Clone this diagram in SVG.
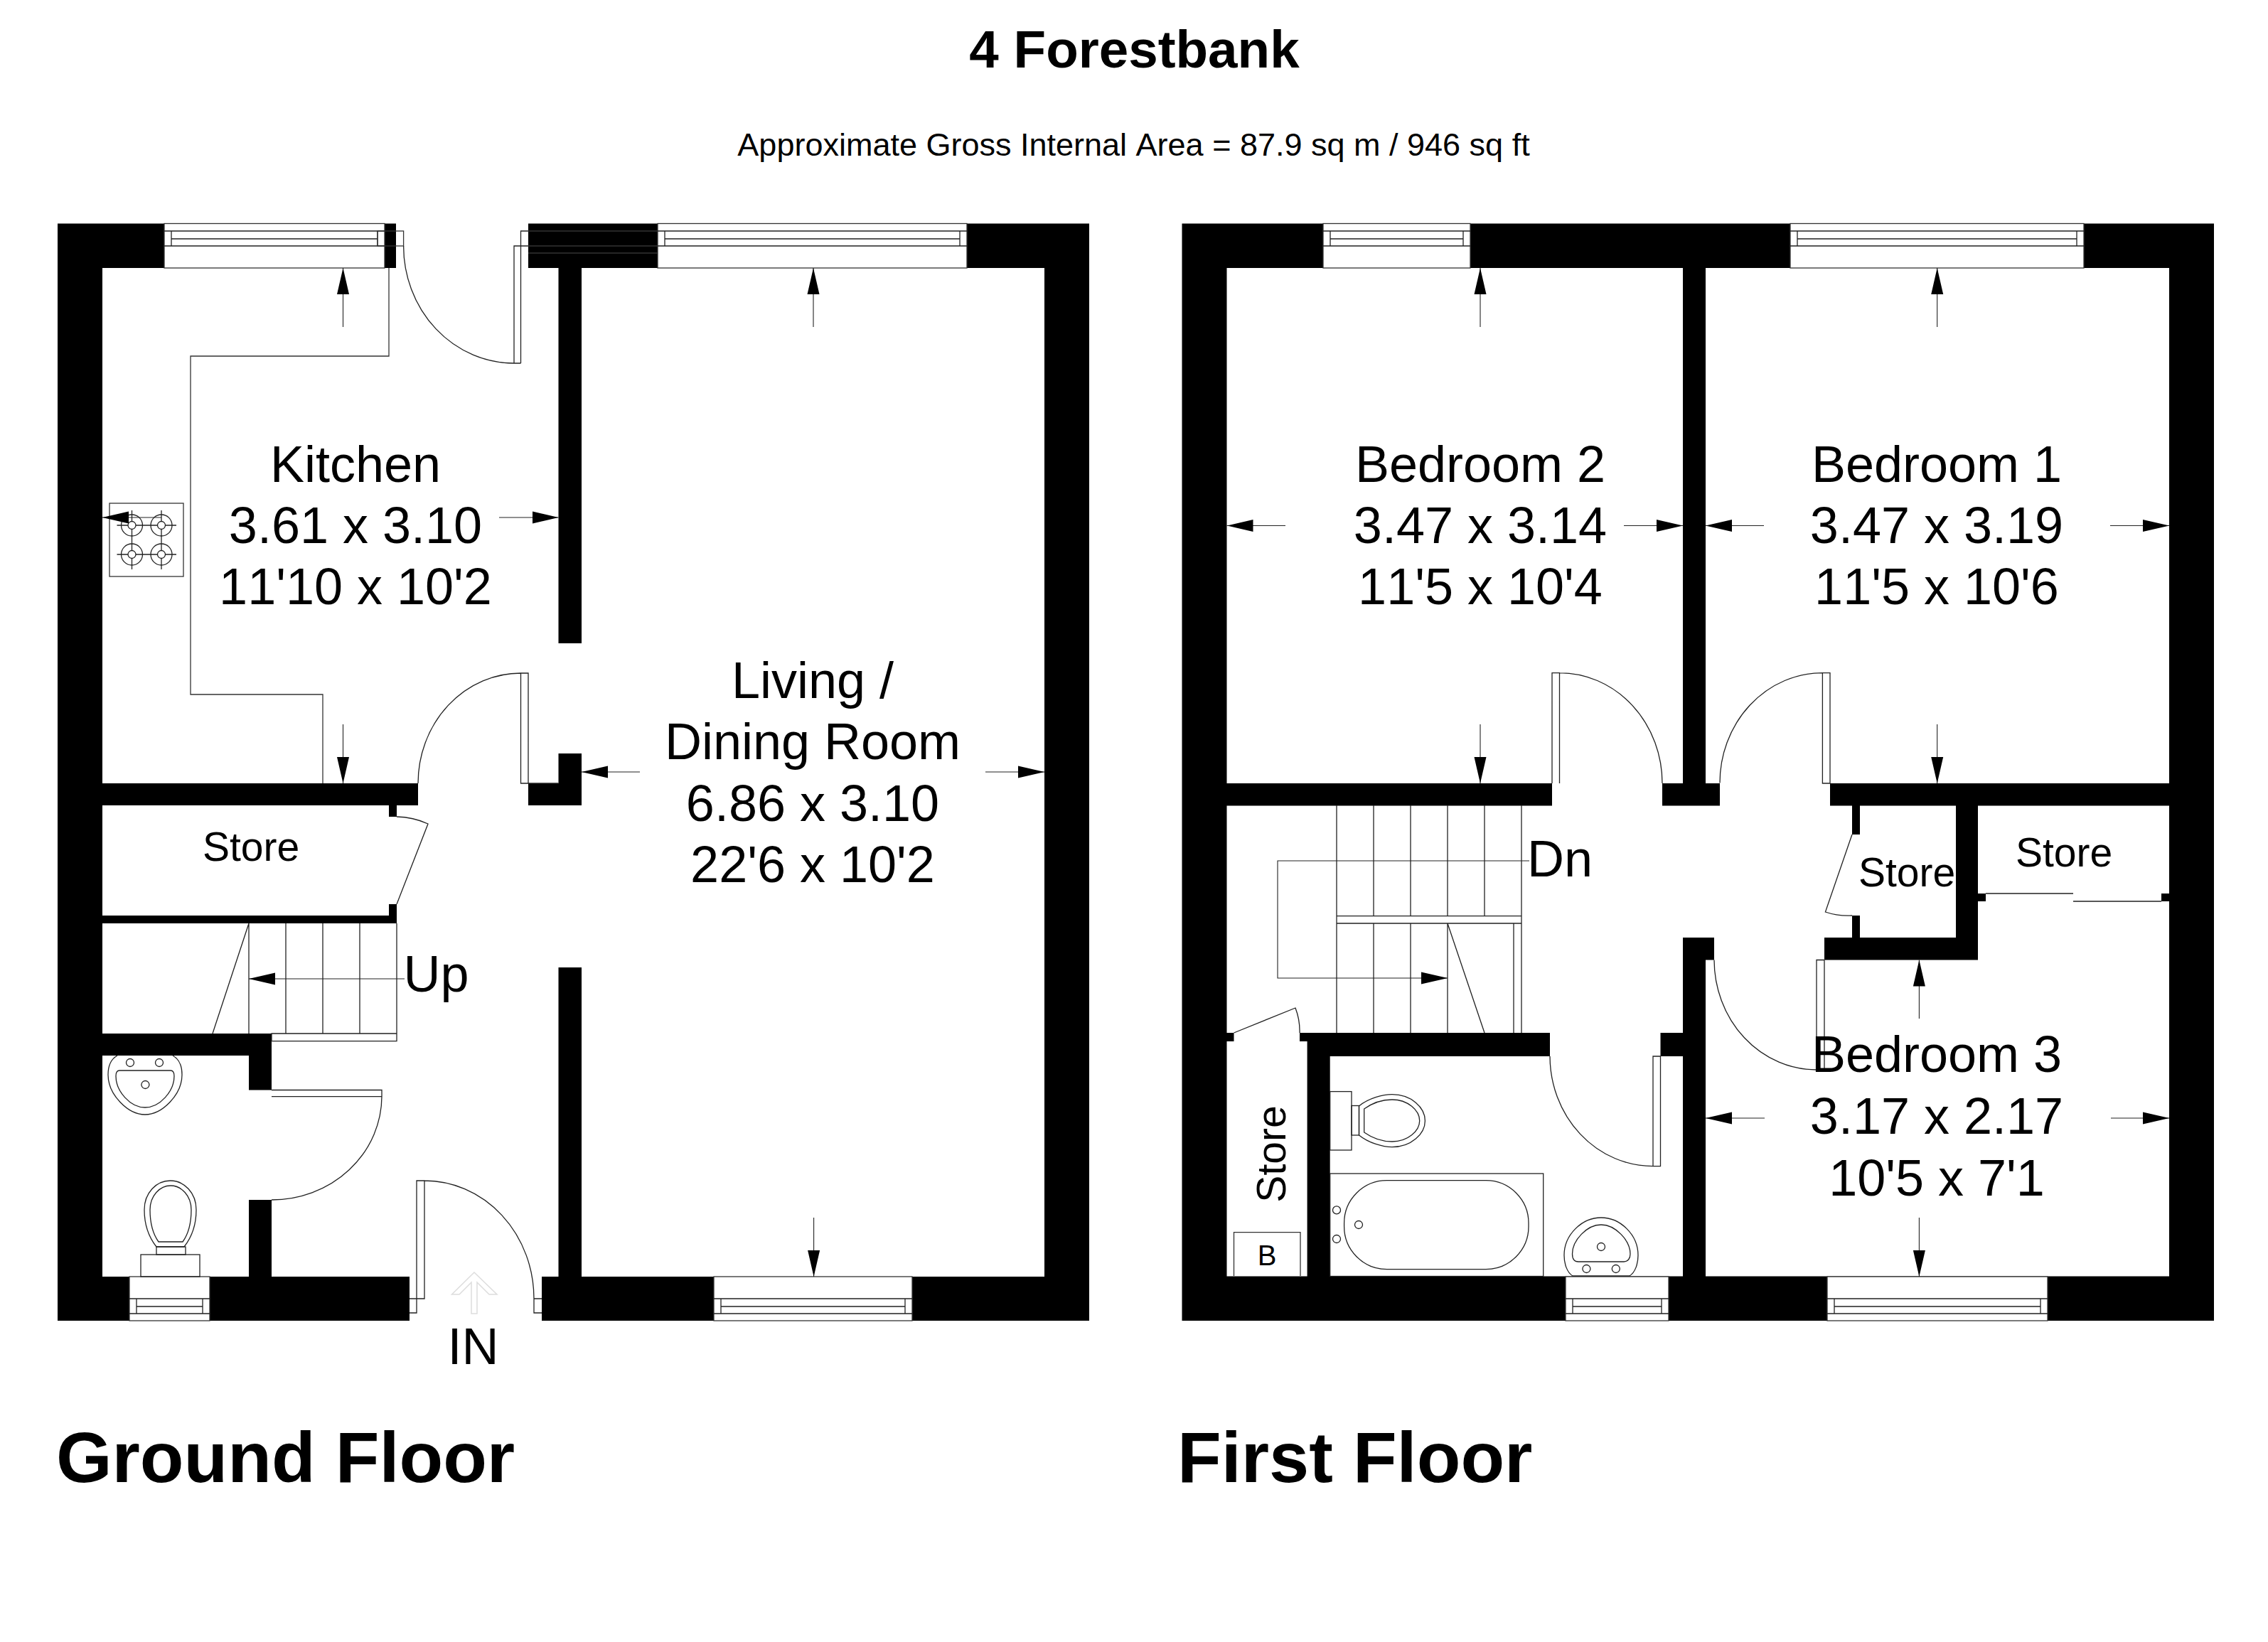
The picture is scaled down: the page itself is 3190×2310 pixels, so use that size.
<svg xmlns="http://www.w3.org/2000/svg" width="3190" height="2310" viewBox="0 0 3190 2310">
<defs>
<marker id="ah" markerUnits="userSpaceOnUse" viewBox="-37 -9 37 18" refX="0" refY="0" markerWidth="37" markerHeight="18" orient="auto"><path d="M0,0 L-37,-8.5 L-37,8.5 Z" fill="#000"/></marker>
</defs>
<style>
text{font-family:"Liberation Sans",Arial,sans-serif;fill:#000;font-kerning:none}
.room{font-size:72px;text-anchor:middle}
.small{font-size:57px;text-anchor:middle}
.floor{font-size:101px;font-weight:bold}
.wall{fill:#000;stroke:none}
.ln{fill:none;stroke:#222;stroke-width:1.3}
.thin{fill:none;stroke:#333;stroke-width:1.3}
.win{fill:#fff;stroke:#333;stroke-width:1.3}
.dim{fill:none;stroke:#222;stroke-width:1.1;marker-end:url(#ah)}
</style>
<rect width="3190" height="2310" fill="#fff"/>

<g id="titles">
<text x="1595.5" y="95" font-size="74.6" font-weight="bold" text-anchor="middle">4 Forestbank</text>
<text x="1594.5" y="219" font-size="45" text-anchor="middle">Approximate Gross Internal Area = 87.9 sq m / 946 sq ft</text>
<text class="floor" x="79" y="2085">Ground Floor</text>
<text class="floor" x="1656" y="2085">First Floor</text>
</g>

<g id="ground-walls">
<path class="wall" d="M81,314.5H557V377H81Z M81,314.5H144V1858H81Z M743,314.5H1532V377H743Z M1469,314.5H1532V1858H1469Z M81,1796H576V1858H81Z M762,1796H1532V1858H762Z M785.5,377H818V905H785.5Z M785.5,1060H818V1133H785.5Z M743,1102H818V1133H743Z M785.5,1361H818V1796H785.5Z M81,1102H588V1133H81Z M547,1133H558V1149H547Z M547,1272H558V1288H547Z M81,1288H558V1299H81Z M81,1454H382V1485H81Z M350,1485H382V1533.5H350Z M350,1688H382V1796H350Z"/>
<path class="thin" d="M743,325H925M743,346H925M743,356H925"/>
</g>

<g id="first-walls">
<path class="wall" d="M1662.5,314.5H3114V377H1662.5Z M1662.5,314.5H1725.5V1858H1662.5Z M3051,314.5H3114V1858H3051Z M1662.5,1795.5H3114V1858H1662.5Z M1662.5,1102H2183V1133.5H1662.5Z M2367,377H2399V1133.5H2367Z M2338,1102H2419V1133.5H2338Z M2574,1102H3114V1133.5H2574Z M2605,1133H2616V1174H2605Z M2605,1288H2616V1319H2605Z M2751,1133H2782V1350H2751Z M2566,1319H2782V1350.5H2566Z M2751,1257H2793V1268H2751Z M3040,1257H3114V1268H3040Z M2367,1319H2399V1795.5H2367Z M2367,1319H2411V1350.5H2367Z M2335.5,1453H2399V1486H2335.5Z M1662.5,1453H1735.5V1465H1662.5Z M1828,1453H2180V1465H1828Z M1838.6,1453H2180V1486H1838.6Z M1838.6,1486H1870.7V1795.5H1838.6Z"/>
</g>

<g id="windows">
<g id="win-kitchen">
<rect class="win" x="231" y="314.5" width="310" height="62.5"/>
<path class="ln" d="M231,325H541M231,346H541M241,336H531M241,325V346M531,325V346"/>
<rect class="thin" x="531" y="325" width="36.6" height="21"/>
</g>
<g id="win-living"><rect class="win" x="925" y="314.5" width="435" height="62.5"/><path class="ln" d="M925,325H1360M925,346H1360M935,336H1350M935,325V346M1350,325V346"/></g>
<g id="win-wc"><rect class="win" x="182" y="1796" width="113" height="62"/><path class="ln" d="M182,1827H295M182,1848H295M192,1838H285M192,1827V1848M285,1827V1848"/></g>
<g id="win-living-b"><rect class="win" x="1004" y="1796" width="279" height="62"/><path class="ln" d="M1004,1827H1283M1004,1848H1283M1014,1838H1273M1014,1827V1848M1273,1827V1848"/></g>
<g id="win-bed2"><rect class="win" x="1861" y="314.5" width="207" height="62.5"/><path class="ln" d="M1861,325H2068M1861,346H2068M1871,336H2058M1871,325V346M2058,325V346"/></g>
<g id="win-bed1"><rect class="win" x="2518" y="314.5" width="413" height="62.5"/><path class="ln" d="M2518,325H2931M2518,346H2931M2528,336H2921M2528,325V346M2921,325V346"/></g>
<g id="win-bath"><rect class="win" x="2202" y="1796" width="145" height="62"/><path class="ln" d="M2202,1827H2347M2202,1848H2347M2212,1838H2337M2212,1827V1848M2337,1827V1848"/></g>
<g id="win-bed3"><rect class="win" x="2570" y="1796" width="310" height="62"/><path class="ln" d="M2570,1827H2880M2570,1848H2880M2580,1838H2870M2580,1827V1848M2870,1827V1848"/></g>
</g>

<g id="doors">
<path class="ln" d="M567.6,346 A155.4,165 0 0 0 723,511 M723,511 V346 H743 M732.5,511 V325 H743 M723,511 H732.5"/>
<path class="ln" d="M588,1102 A144.5,155 0 0 1 732.5,947 H743 V1102 M732.5,947 V1102 H785.5"/>
<path class="ln" d="M558,1149 A110,110 0 0 1 602,1159 L558,1272"/>
<path class="ln" d="M382,1533.5 H537 V1542.6 H382 M537,1542.6 A155,146 0 0 1 382,1688"/>
<path class="ln" d="M576,1827 H597 V1661 H586 V1847 H576 M597,1661 A154,166 0 0 1 751,1827 H762 M751,1827 V1847 H762"/>
<path class="ln" d="M2193.5,946.6 A144.5,155.4 0 0 1 2338,1102 M2183,1102 V946.6 H2193.5 V1102"/>
<path class="ln" d="M2419,1101.6 A144.4,155 0 0 1 2563.4,946.6 H2574 V1102 M2563.4,946.6 V1102 H2574"/>
<path class="ln" d="M2411,1350.5 A144,155 0 0 0 2555,1505 H2566 V1350.5 M2555,1505 V1350.5 H2566"/>
<path class="ln" d="M2180,1486 A145,155 0 0 0 2325,1640.6 H2335.5 V1486 H2325 V1640.6"/>
<path class="ln" d="M1735.5,1453 L1822,1418 A90,90 0 0 1 1828,1453"/>
<path class="ln" d="M2605,1174 L2567.4,1283 A100,100 0 0 0 2605,1288"/>
<path class="ln" d="M2793,1257 H2916 M2916,1268 H3040"/>
<path d="M663,1848 V1804 L646,1821 H635.5 L667,1790 L699,1821 H688 L671,1804 V1848 Z" fill="none" stroke="#ddd" stroke-width="1.5"/>
</g>

<g id="stairs-ground">
<path class="ln" d="M350,1299V1454 M402,1299V1454 M454,1299V1454 M506,1299V1454 M558,1299V1464.6 H382 V1454 H558 M350,1299 L299,1454"/>
</g>
<g id="stairs-first">
<path class="ln" d="M1880,1133V1288.6 M1932,1133V1288.6 M1984,1133V1288.6 M2036,1133V1288.6 M2088,1133V1288.6 M2140,1133V1453 M1880,1288.6H2140 M1880,1299H2140 M1880,1288.6V1453 M1932,1299V1453 M1984,1299V1453 M2036,1299V1453 M2129,1299V1453 M2036,1299 L2088,1453"/>
</g>

<g id="fixtures">
<g id="kitchen-units"><path class="thin" d="M547,377V501H268V977H454V1102"/></g>
<g id="hob">
<rect class="thin" x="154" y="708" width="104" height="103"/>
<g class="ln">
<circle cx="185.5" cy="739" r="15"/><circle cx="185.5" cy="739" r="5.5"/><circle cx="227" cy="739" r="15"/><circle cx="227" cy="739" r="5.5"/><circle cx="185.5" cy="780" r="15"/><circle cx="185.5" cy="780" r="5.5"/><circle cx="227" cy="780" r="15"/><circle cx="227" cy="780" r="5.5"/>
<path d="M164.5,739H180M191,739H221.5M232.5,739H248 M185.5,718V733.5M185.5,744.5V774.5M185.5,785.5V801 M227,718V733.5M227,744.5V774.5M227,785.5V801 M164.5,780H180M191,780H221.5M232.5,780H248"/>
</g>
</g>
<g id="wc-basin"><path class="ln" d="M165,1485 C156,1490 152,1500 152,1512 C152,1540 180,1568 204,1568 C228,1568 256,1540 256,1512 C256,1500 252,1490 243,1485 M168,1506 H240 C244,1506 245,1510 245,1514 C245,1535 225,1558 204,1558 C183,1558 163,1535 163,1514 C163,1510 164,1506 168,1506Z"/><circle class="ln" cx="183" cy="1495" r="5.5"/><circle class="ln" cx="224" cy="1495" r="5.5"/><circle class="ln" cx="204.4" cy="1526" r="5.5"/></g>
<g id="wc-toilet"><path class="ln" d="M220,1754 C205,1735 203,1715 203,1702 C203,1678 220,1661 239.5,1661 C259,1661 276,1678 276,1702 C276,1715 274,1735 259,1754 Z M223,1747 C213,1733 211,1715 211,1702 C211,1682 225,1668 240,1668 C255,1668 269,1682 269,1702 C269,1715 267,1733 257,1747Z"/><rect class="ln" x="220" y="1754" width="41" height="11"/><rect class="ln" x="198" y="1765" width="83" height="31"/></g>
<g id="bath-toilet"><rect class="ln" x="1870.7" y="1535.6" width="30.3" height="82.4"/><rect class="ln" x="1901" y="1555.5" width="10.5" height="41.5"/><path class="ln" d="M1911.5,1556 C1925,1545 1945,1539.7 1958,1539.7 C1985,1539.7 2004.4,1558 2004.4,1576.7 C2004.4,1595 1985,1613.7 1958,1613.7 C1945,1613.7 1925,1608 1911.5,1597Z M1918.7,1560 C1930,1552 1945,1547 1958,1547 C1980,1547 1996.7,1562 1996.7,1576.7 C1996.7,1591 1980,1606 1958,1606 C1945,1606 1930,1601 1918.7,1593 Z"/></g>
<g id="bath"><rect class="ln" x="1870.7" y="1651" width="300" height="144.5"/><rect class="ln" x="1890.6" y="1660.6" width="259.4" height="125" rx="60" ry="60"/><circle class="ln" cx="1880" cy="1702.4" r="5.5"/><circle class="ln" cx="1880" cy="1743" r="5.5"/><circle class="ln" cx="1911" cy="1723" r="5.5"/></g>
<g id="bath-basin"><path class="ln" d="M2212,1795 C2204,1790 2200,1778 2200,1766 C2200,1737 2225,1713 2252,1713 C2279,1713 2304,1737 2304,1766 C2304,1778 2300,1790 2292,1795 Z M2220,1775 H2284 C2290,1775 2293,1770 2293,1764 C2293,1745 2272,1723 2252,1723 C2232,1723 2211.5,1745 2211.5,1764 C2211.5,1770 2214,1775 2220,1775Z"/><circle class="ln" cx="2252" cy="1754" r="5.5"/><circle class="ln" cx="2231.4" cy="1785" r="5.5"/><circle class="ln" cx="2272.8" cy="1785" r="5.5"/></g>
<g id="boiler"><path class="thin" d="M1735.5,1795V1733.6H1829V1795"/><text x="1782" y="1780" font-size="40" text-anchor="middle">B</text></g>
</g>

<g id="connectors">
<path class="dim" d="M482.5,460V377"/>
<path class="dim" d="M702,728H785.5"/>
<path class="dim" d="M227,728H144"/>
<path class="dim" d="M482.5,1019V1102"/>
<path class="dim" d="M1144,460V377"/>
<path class="dim" d="M900,1086H818"/>
<path class="dim" d="M1386,1086H1469"/>
<path class="dim" d="M1144.6,1713V1796"/>
<path class="dim" d="M569,1377H350"/>
<path class="dim" d="M2151,1211H1797V1376H2036"/>
<path class="dim" d="M2082,460V377"/>
<path class="dim" d="M1808,739.5H1725.5"/>
<path class="dim" d="M2284,739.5H2367"/>
<path class="dim" d="M2082,1019V1102"/>
<path class="dim" d="M2724.7,460V377"/>
<path class="dim" d="M2481,739.5H2399"/>
<path class="dim" d="M2968,739.5H3051"/>
<path class="dim" d="M2724.7,1019V1102"/>
<path class="dim" d="M2699.4,1433V1350.5"/>
<path class="dim" d="M2482,1573H2399"/>
<path class="dim" d="M2969,1573H3051"/>
<path class="dim" d="M2699.4,1713V1796"/>
</g>

<g id="labels">
<g id="kitchen"><text class="room" x="500" y="678">Kitchen</text><text class="room" x="500" y="764">3.61 x 3.10</text><text class="room" x="500" y="850">11'10 x 10'2</text></g>
<g id="living"><text class="room" x="1143" y="982">Living /</text><text class="room" x="1143" y="1068">Dining Room</text><text class="room" x="1143" y="1154.5">6.86 x 3.10</text><text class="room" x="1143" y="1241">22'6 x 10'2</text></g>
<g id="bedroom2"><text class="room" x="2082" y="678">Bedroom 2</text><text class="room" x="2082" y="764">3.47 x 3.14</text><text class="room" x="2082" y="850">11'5 x 10'4</text></g>
<g id="bedroom1"><text class="room" x="2724" y="678">Bedroom 1</text><text class="room" x="2724" y="764">3.47 x 3.19</text><text class="room" x="2724" y="850">11'5 x 10'6</text></g>
<g id="bedroom3"><text class="room" x="2724" y="1508">Bedroom 3</text><text class="room" x="2724" y="1594.5">3.17 x 2.17</text><text class="room" x="2724" y="1682">10'5 x 7'1</text></g>
<text class="small" x="353" y="1211">Store</text>
<text class="small" x="2682" y="1247">Store</text>
<text class="small" x="2903" y="1219">Store</text>
<text class="small" transform="translate(1808,1623.5) rotate(-90)">Store</text>
<text class="room" x="613.5" y="1395">Up</text>
<text class="room" x="2194" y="1233">Dn</text>
<text class="room" x="665.5" y="1919">IN</text>
</g>
</svg>
